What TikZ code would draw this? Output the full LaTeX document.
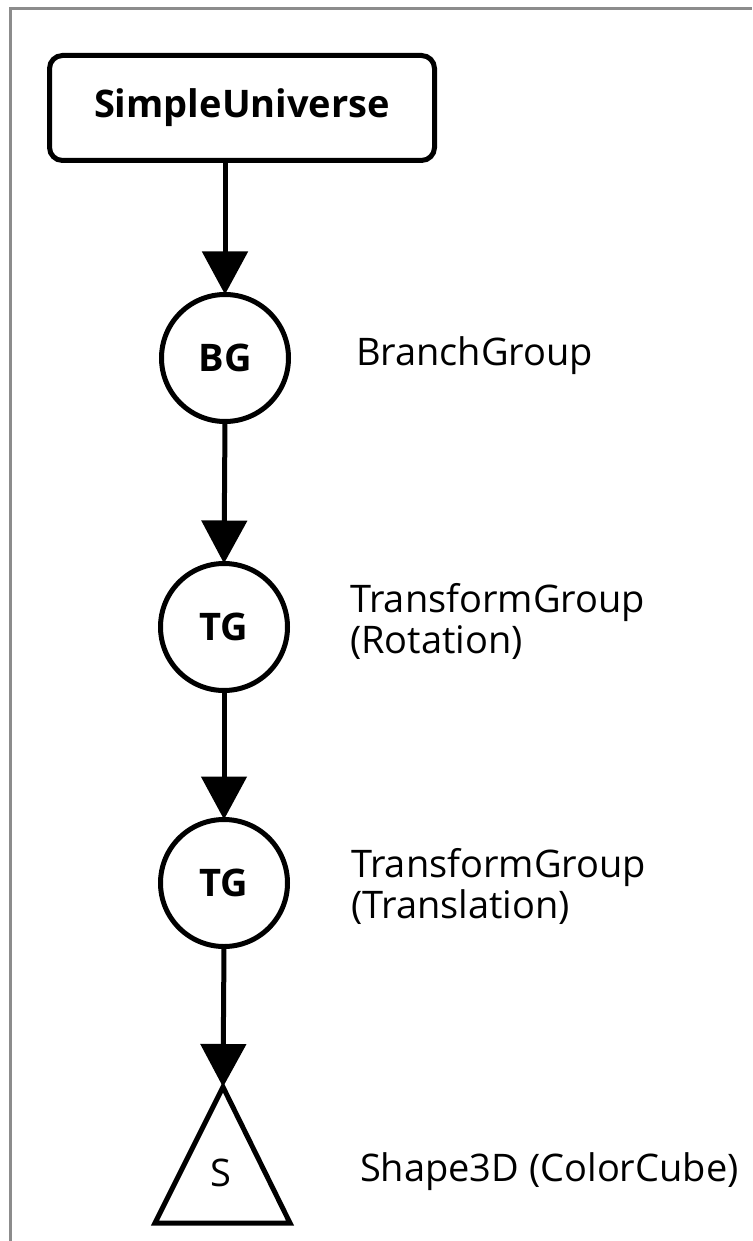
\documentclass[tikz,border=0pt]{standalone}
\usepackage{fontspec}
\setmainfont{Open Sans}
\usetikzlibrary{arrows.meta}
\begin{document}
\begin{tikzpicture}[x=1pt,y=-1pt,
  every node/.style={inner sep=0pt, outer sep=0pt},
  txt/.style={font=\fontsize{38}{43}\selectfont},
  nodetxt/.style={font=\fontsize{38}{43}\selectfont\bfseries},
  boxnode/.style={draw, line width=5pt, rounded corners=13pt, minimum width=385pt, minimum height=105pt, nodetxt},
  grp/.style={draw, circle, line width=5pt, minimum size=127pt, nodetxt},
  arr/.style={line width=5pt, -{Triangle[width=45pt,length=43pt]}},
  frame/.style={draw=black!45, line width=3pt}
]
\useasboundingbox (0,0) rectangle (752,1241);
\draw[frame] (10,1241) -- (10,9) -- (752,9);

\node[boxnode] (U) at (242,108) {SimpleUniverse};
\node[grp] (BG) at (225,358) {BG};
\node[grp] (TG1) at (224,627) {TG};
\node[grp] (TG2) at (224,883) {TG};
\coordinate (Stop) at (223,1087);
\coordinate (Sbl) at (155,1223);
\coordinate (Sbr) at (290,1223);
\draw[line width=5pt, line join=miter] (Stop) -- (Sbr) -- (Sbl) -- cycle;
\node[txt] (S) at (221,1173) {S};

\draw[arr] (U.south -| BG.north) -- (BG.north);
\draw[arr] (BG.south) -- (TG1.north);
\draw[arr] (TG1.south) -- (TG2.north);
\draw[arr] (TG2.south) -- (Stop);

\node[txt, anchor=base west] (lBG) at (356,365) {BranchGroup};
\node[txt, anchor=base west] (lTG1a) at (350,612) {TransformGroup};
\node[txt, anchor=base west] (lTG1b) at (350,653) {(Rotation)};
\node[txt, anchor=base west] (lTG2a) at (351,877) {TransformGroup};
\node[txt, anchor=base west] (lTG2b) at (351,918) {(Translation)};
\node[txt, anchor=base west] (lS) at (360,1181) {Shape3D (ColorCube)};
\end{tikzpicture}
\end{document}
